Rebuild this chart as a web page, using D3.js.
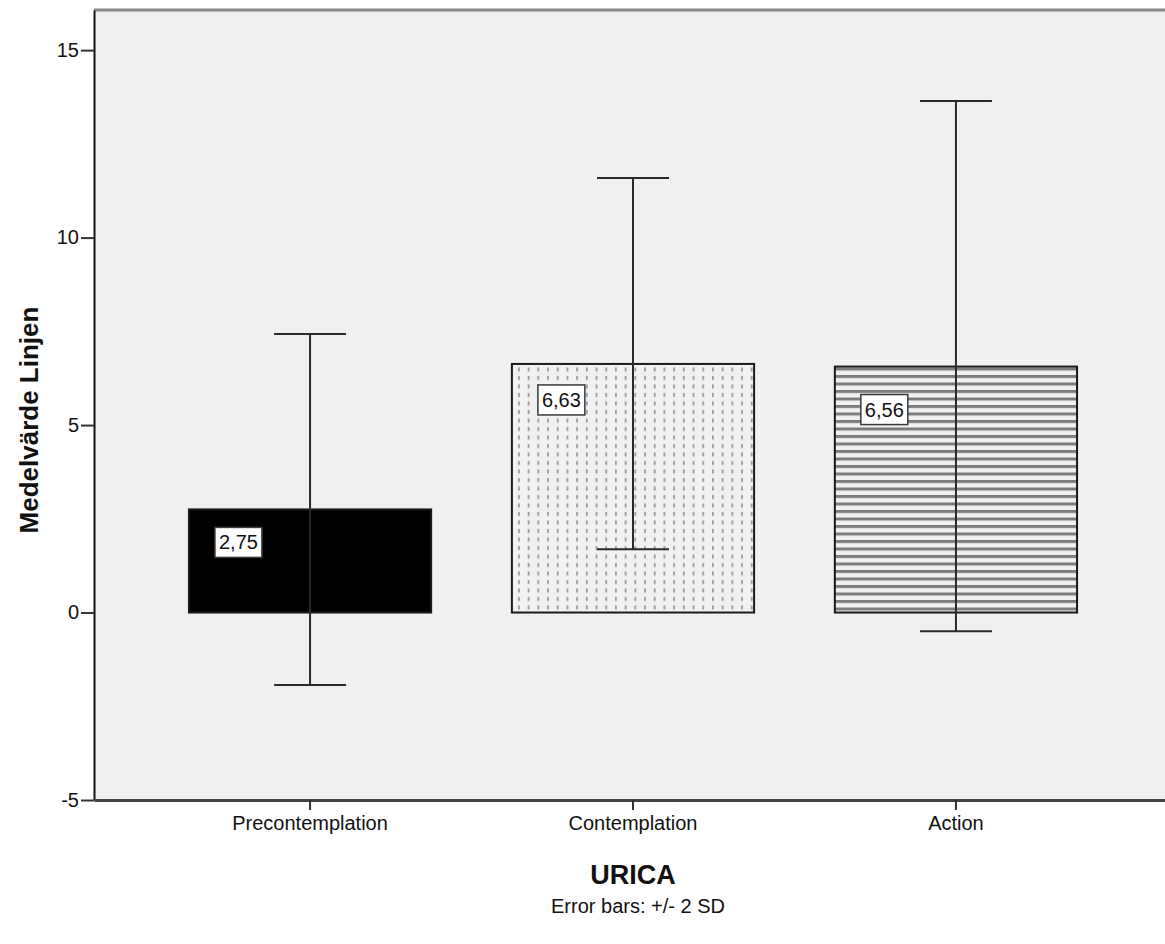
<!DOCTYPE html>
<html>
<head>
<meta charset="utf-8">
<script src="https://cdn.jsdelivr.net/npm/d3@7"></script>
<style>
  html, body { margin: 0; padding: 0; background: #ffffff; }
  svg { display: block; }
  text { font-family: "Liberation Sans", Arial, sans-serif; fill: #111; }
</style>
</head>
<body>
<svg id="chart" width="1165" height="944"></svg>
<script>
// Stage of change (URICA) groups and their mean "Linjen" scores
const categories = ["Precontemplation", "Contemplation", "Action"];
const means = [2.75, 6.63, 6.56];
// Error bar ends: mean +/- 2 SD
const errLow = [-1.93, 1.69, -0.50];
const errHigh = [7.43, 11.59, 13.64];
const yTicks = [-5, 0, 5, 10, 15];
const yTickLabels = ["-5", "0", "5", "10", "15"];

const svg = d3.select("#chart");
const plot = { left: 94, right: 1172, top: 10, bottom: 800 };

const y = d3.scaleLinear().domain([-5, 16.07]).range([plot.bottom, plot.top]);
const x = d3.scaleBand().domain(categories)
  .range([plot.left, plot.right])
  .paddingInner(0.25).paddingOuter(0.294);

const sv = d3.formatLocale({ decimal: ",", thousands: " ", grouping: [3], currency: ["", ""] });
const fmt = sv.format(".2f");

// Fill patterns
const defs = svg.append("defs");
const dots = defs.append("pattern").attr("id", "dots")
  .attr("patternUnits", "userSpaceOnUse").attr("width", 9.7).attr("height", 8.5);
dots.append("rect").attr("width", 9.7).attr("height", 8.5).attr("fill", "#f1f1f1");
dots.append("rect").attr("x", 4).attr("y", 2).attr("width", 1.6).attr("height", 4).attr("fill", "#8e8e8e");

const stripes = defs.append("pattern").attr("id", "stripes")
  .attr("patternUnits", "userSpaceOnUse").attr("width", 10).attr("height", 7.5);
stripes.append("rect").attr("width", 10).attr("height", 7.5).attr("fill", "#f1f1f1");
stripes.append("rect").attr("y", 0).attr("width", 10).attr("height", 3).attr("fill", "#7c7c7c");

const fills = ["#000000", "url(#dots)", "url(#stripes)"];
const labelDrop = [33, 36, 43];

// Plot background
svg.append("rect")
  .attr("x", plot.left).attr("y", plot.top)
  .attr("width", plot.right - plot.left).attr("height", plot.bottom - plot.top)
  .attr("fill", "#f0f0f0");
svg.append("line")
  .attr("x1", plot.left).attr("x2", plot.right)
  .attr("y1", plot.top).attr("y2", plot.top)
  .attr("stroke", "#8a8a8a").attr("stroke-width", 3);

// Bars
svg.append("g").selectAll("rect")
  .data(categories)
  .join("rect")
  .attr("x", d => x(d))
  .attr("width", x.bandwidth())
  .attr("y", (d, i) => y(means[i]))
  .attr("height", (d, i) => y(0) - y(means[i]))
  .attr("fill", (d, i) => fills[i])
  .attr("stroke", "#1a1a1a")
  .attr("stroke-width", 2);

// Error bars
const eb = svg.append("g").attr("stroke", "#2a2a2a").attr("stroke-width", 2);
categories.forEach((c, i) => {
  const cx = x(c) + x.bandwidth() / 2;
  eb.append("line").attr("x1", cx).attr("x2", cx).attr("y1", y(errLow[i])).attr("y2", y(errHigh[i]));
  eb.append("line").attr("x1", cx - 36).attr("x2", cx + 36).attr("y1", y(errHigh[i])).attr("y2", y(errHigh[i]));
  eb.append("line").attr("x1", cx - 36).attr("x2", cx + 36).attr("y1", y(errLow[i])).attr("y2", y(errLow[i]));
});

// Value labels
const lab = svg.append("g");
categories.forEach((c, i) => {
  const g = lab.append("g")
    .attr("transform", `translate(${x(c) + 26},${y(means[i]) + labelDrop[i]})`);
  const t = g.append("text").attr("x", 4).attr("y", 0)
    .attr("dominant-baseline", "central")
    .attr("font-size", 20).text(fmt(means[i]));
  const w = t.node().getComputedTextLength();
  g.insert("rect", "text")
    .attr("x", 0).attr("y", -15).attr("width", w + 8).attr("height", 30)
    .attr("fill", "#ffffff").attr("stroke", "#3a3a3a").attr("stroke-width", 1.5);
});

// Axes
const yAxis = svg.append("g").attr("transform", `translate(${plot.left},0)`)
  .call(d3.axisLeft(y).tickValues(yTicks)
    .tickFormat((d, i) => yTickLabels[i])
    .tickSize(13).tickSizeOuter(0).tickPadding(2));
yAxis.select(".domain").attr("stroke", "#111").attr("stroke-width", 2);
yAxis.selectAll(".tick line").attr("stroke", "#333").attr("stroke-width", 2);
yAxis.selectAll(".tick text").attr("font-size", 20).attr("fill", "#111")
  .attr("font-family", "'Liberation Sans', Arial, sans-serif");

const xAxis = svg.append("g").attr("transform", `translate(0,${plot.bottom})`)
  .call(d3.axisBottom(x).tickSize(10).tickSizeOuter(0).tickPadding(6));
xAxis.select(".domain").attr("stroke", "#444").attr("stroke-width", 3);
xAxis.selectAll(".tick line").attr("stroke", "#333").attr("stroke-width", 2);
xAxis.selectAll(".tick text").attr("font-size", 20).attr("fill", "#111")
  .attr("font-family", "'Liberation Sans', Arial, sans-serif");

// Titles
const midX = (plot.left + plot.right) / 2;
svg.append("text")
  .attr("x", midX).attr("y", 884)
  .attr("text-anchor", "middle").attr("font-size", 27).attr("font-weight", "bold")
  .text("URICA");
svg.append("text")
  .attr("transform", `translate(38,${(plot.top + plot.bottom) / 2 + 15}) rotate(-90)`)
  .attr("text-anchor", "middle").attr("font-size", 26).attr("font-weight", "bold")
  .text("Medelvärde Linjen");
svg.append("text")
  .attr("x", midX + 5).attr("y", 913)
  .attr("text-anchor", "middle").attr("font-size", 20)
  .text("Error bars:  +/- 2 SD");
</script>
</body>
</html>
